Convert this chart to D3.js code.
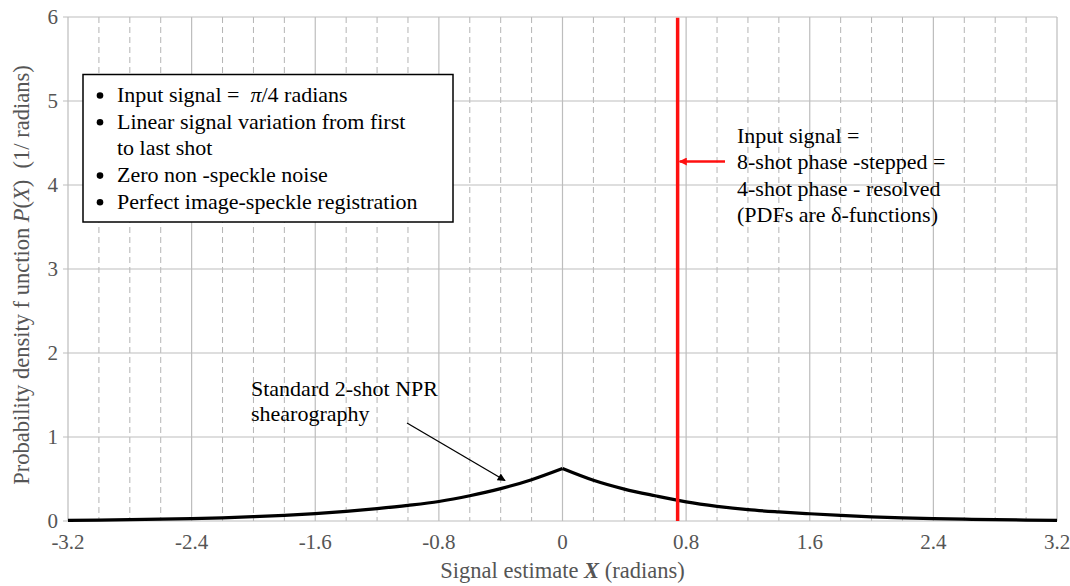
<!DOCTYPE html>
<html>
<head>
<meta charset="utf-8">
<script src="https://cdn.jsdelivr.net/npm/d3@7"></script>
<style>
  body { margin: 0; background: #fff; }
  text { font-family: "Liberation Serif", "Times New Roman", serif; white-space: pre; }
</style>
</head>
<body>
<svg id="svg1" width="1070" height="586"></svg>
<script>
// PDF of the standard 2-shot NPR shearography estimate
var pdfX = [-3.2,-3.0,-2.8,-2.6,-2.4,-2.2,-2.0,-1.8,-1.6,-1.4,-1.2,-1.0,-0.8,-0.6,-0.4,-0.2,0,
            0.2,0.4,0.6,0.8,1.0,1.2,1.4,1.6,1.8,2.0,2.2,2.4,2.6,2.8,3.0,3.2]
var pdfY = [0.008,0.011,0.016,0.022,0.029,0.038,0.051,0.067,0.088,0.115,0.148,0.186,0.232,0.300,0.385,0.492,0.625,
            0.485,0.380,0.300,0.228,0.175,0.135,0.108,0.086,0.066,0.050,0.038,0.029,0.022,0.016,0.011,0.008]
var inputSignal = 0.745   // red delta line (drawn just left of 0.8)

var xTicks = [-3.2,-2.4,-1.6,-0.8,0,0.8,1.6,2.4,3.2]
var yTicks = [0,1,2,3,4,5,6]

var legendLines = [
  {bullet:true,  parts:[["Input signal =  ",""],["π","italic"],["/4 radians",""]]},
  {bullet:true,  parts:[["Linear signal variation from first",""]]},
  {bullet:false, parts:[["to last shot",""]]},
  {bullet:true,  parts:[["Zero non -speckle noise",""]]},
  {bullet:true,  parts:[["Perfect image-speckle registration",""]]}
]
var redNote = ["Input signal =", "8-shot phase -stepped =", "4-shot phase - resolved", "(PDFs are δ-functions)"]
var blackNote = ["Standard 2-shot NPR", "shearography"]

var svg = d3.select("#svg1")
var pLeft = 68, pRight = 1057, pTop = 17, pBottom = 521

var x = d3.scaleLinear().domain([-3.2,3.2]).range([pLeft,pRight])
var y = d3.scaleLinear().domain([0,6]).range([pBottom,pTop])

var grid = svg.append("g")

// dashed minor verticals every 0.2
var minor = d3.range(-32,33,2).map(d=>d/10).filter(d=>Math.abs(Math.round(d*10)%8)!=0)
grid.selectAll(".minor").data(minor).join("line")
    .attr("x1",d=>x(d)).attr("x2",d=>x(d))
    .attr("y1",pTop).attr("y2",pBottom)
    .style("stroke","#b4b4b4").style("stroke-width",1).style("stroke-dasharray","6,4")

grid.selectAll(".major").data(xTicks).join("line")
    .attr("x1",d=>x(d)).attr("x2",d=>x(d))
    .attr("y1",pTop).attr("y2",pBottom)
    .style("stroke","#bdbdbd").style("stroke-width",1.2)

grid.selectAll(".hgrid").data(yTicks).join("line")
    .attr("x1",pLeft-5).attr("x2",pRight)
    .attr("y1",d=>y(d)).attr("y2",d=>y(d))
    .style("stroke","#bdbdbd").style("stroke-width",1.2)

// tick labels
svg.append("g").selectAll("text").data(xTicks).join("text")
    .attr("x",d=>x(d)).attr("y",549)
    .attr("text-anchor","middle")
    .style("font-size","21px").style("fill","#555")
    .text(d=>String(d))

svg.append("g").selectAll("text").data(yTicks).join("text")
    .attr("x",58).attr("y",d=>y(d)+7)
    .attr("text-anchor","end")
    .style("font-size","21px").style("fill","#555")
    .text(d=>d)

// axis titles
var xt = svg.append("text").attr("x",x(0)).attr("y",578).attr("text-anchor","middle")
    .style("font-size","22.5px").style("fill","#555")
xt.append("tspan").text("Signal estimate ")
xt.append("tspan").style("font-style","italic").style("font-weight","bold").text("X")
xt.append("tspan").text(" (radians)")

var yt = svg.append("text").attr("transform","translate(29,275) rotate(-90)").attr("text-anchor","middle")
    .style("font-size","22.5px").style("fill","#555")
yt.append("tspan").text("Probability density f unction ")
yt.append("tspan").style("font-style","italic").text("P")
yt.append("tspan").text("(")
yt.append("tspan").style("font-style","italic").text("X")
yt.append("tspan").text(")  (1/ radians)")

// curve: two halves so the cusp at 0 stays sharp
var pts = pdfX.map((d,i)=>[d,pdfY[i]])
var line = d3.line().x(d=>x(d[0])).y(d=>y(d[1])).curve(d3.curveMonotoneX)
svg.append("path").attr("d",line(pts.filter(d=>d[0]<=0)))
    .style("fill","none").style("stroke","#000").style("stroke-width",3.2)
svg.append("path").attr("d",line(pts.filter(d=>d[0]>=0)))
    .style("fill","none").style("stroke","#000").style("stroke-width",3.2)

// delta function
svg.append("line")
    .attr("x1",x(inputSignal)).attr("x2",x(inputSignal))
    .attr("y1",y(5.99)).attr("y2",pBottom)
    .style("stroke","#ff1010").style("stroke-width",3.5)

// arrow heads
var defs = svg.append("defs")
function marker(id,col){
  defs.append("marker").attr("id",id).attr("viewBox","0 0 10 10")
      .attr("refX",9).attr("refY",5).attr("markerWidth",10).attr("markerHeight",8)
      .attr("markerUnits","userSpaceOnUse").attr("orient","auto")
      .append("path").attr("d","M0,0L10,5L0,10z").style("fill",col)
}
marker("ar","#ff1010")
marker("ab","#000")

svg.append("line").attr("x1",725).attr("y1",161.5).attr("x2",x(inputSignal)+2).attr("y2",161.5)
    .style("stroke","#ff1010").style("stroke-width",2.5).attr("marker-end","url(#ar)")

svg.append("g").selectAll("text").data(redNote).join("text")
    .attr("x",737).attr("y",(d,i)=>143+i*26.3)
    .style("font-size","22px").style("fill","#000")
    .text(d=>d)

svg.append("g").selectAll("text").data(blackNote).join("text")
    .attr("x",251).attr("y",(d,i)=>396+i*24.5)
    .style("font-size","22px").style("fill","#000")
    .text(d=>d)

svg.append("line").attr("x1",407).attr("y1",423).attr("x2",505).attr("y2",480.5)
    .style("stroke","#000").style("stroke-width",1.3).attr("marker-end","url(#ab)")

// legend box
var lg = svg.append("g")
lg.append("rect").attr("x",83).attr("y",74.5).attr("width",370).attr("height",147.5)
    .style("fill","#fff").style("stroke","#000").style("stroke-width",1.5)
legendLines.forEach(function(l,i){
  var yy = 102 + i*26.7
  if(l.bullet) lg.append("circle").attr("cx",100).attr("cy",yy-6.5).attr("r",3.3).style("fill","#000")
  var t = lg.append("text").attr("x",117).attr("y",yy).style("font-size","22px")
  l.parts.forEach(p=>t.append("tspan").style("font-style",p[1]||"normal").text(p[0]))
})
</script>
</body>
</html>
